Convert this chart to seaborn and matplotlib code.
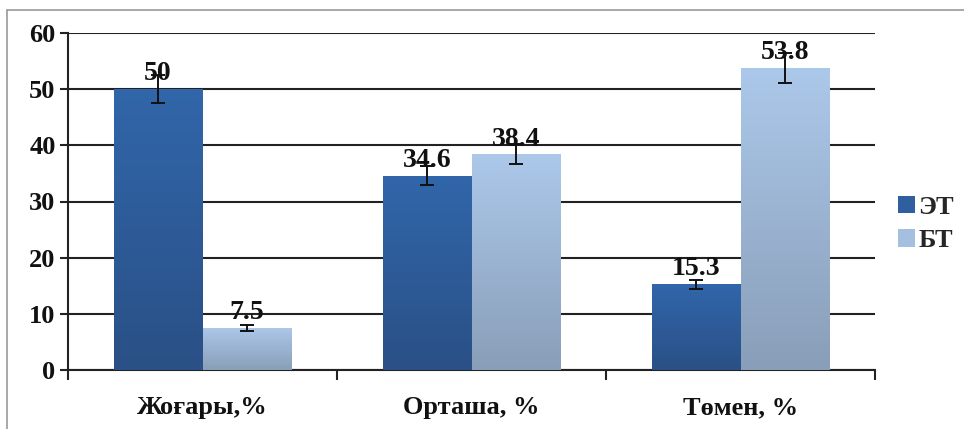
import numpy as np
import pandas as pd
import matplotlib
matplotlib.use("Agg")
import matplotlib.pyplot as plt
import seaborn as sns
from matplotlib.colors import LinearSegmentedColormap
from matplotlib.patches import Patch
from matplotlib.lines import Line2D

categories = ["Жоғары,%", "Орташа, %", "Төмен, %"]
series = ["ЭТ", "БТ"]
et_values = [50, 34.6, 15.3]
bt_values = [7.5, 38.4, 53.8]
et_err = [2.5, 1.7, 0.8]
bt_err = [0.5, 1.8, 2.7]

df = pd.DataFrame({
    "cat": categories * 2,
    "series": [series[0]] * 3 + [series[1]] * 3,
    "value": et_values + bt_values,
})

sns.set_theme(style="white")
plt.rcParams["font.family"] = ["Liberation Serif", "DejaVu Serif"]
plt.rcParams["font.weight"] = "bold"

fig = plt.figure(figsize=(9.64, 4.29), dpi=100)
ax = fig.add_axes([68 / 964, 1 - 370 / 429, (875 - 68) / 964, (370 - 33) / 429])

base_colors = {"ЭТ": "#2f5f9f", "БТ": "#a4bfdf"}
grads = {
    "ЭТ": LinearSegmentedColormap.from_list("et", ["#2a5086", "#3166aa"]),
    "БТ": LinearSegmentedColormap.from_list("bt", ["#899eb8", "#acc8ea"]),
}

sns.barplot(data=df, x="cat", y="value", hue="series", order=categories,
            hue_order=series, palette=base_colors, width=0.66, dodge=True,
            legend=False, ax=ax, errorbar=None, zorder=3, linewidth=0)

ax.set_ylim(0, 60)
ax.set_xlim(-0.5, 2.5)

grad = np.linspace(0, 1, 256).reshape(-1, 1)
errs = {"ЭТ": et_err, "БТ": bt_err}
vals = {"ЭТ": et_values, "БТ": bt_values}
for s, cont in zip(series, ax.containers):
    for i, bar in enumerate(cont):
        x0, w, h = bar.get_x(), bar.get_width(), bar.get_height()
        im = ax.imshow(grad, extent=[x0, x0 + w, 0, h], origin="lower",
                       cmap=grads[s], aspect="auto", zorder=3.1)
        im.set_clip_path(bar)
        xc = x0 + w / 2
        ax.errorbar(xc, h, yerr=errs[s][i], fmt="none", ecolor="#111111",
                    elinewidth=1.4, capsize=5, capthick=1.4, zorder=5)
        ax.annotate(f"{vals[s][i]:g}", (xc, h), xytext=(0, 2),
                    textcoords="offset points", ha="center", va="bottom",
                    fontsize=20, fontweight="bold", color="#111111", zorder=6)

ax.set_ylim(0, 60)
ax.set_xlim(-0.5, 2.5)
ax.set_yticks(range(0, 61, 10))
ax.yaxis.grid(True, color="#222222", linewidth=1.5)
ax.xaxis.grid(False)
ax.set_axisbelow(True)
ax.set_xlabel("")
ax.set_ylabel("")

for side in ["top", "right"]:
    ax.spines[side].set_visible(False)
ax.spines["left"].set_color("#222222")
ax.spines["left"].set_linewidth(1.5)
ax.spines["bottom"].set_color("#222222")
ax.spines["bottom"].set_linewidth(1.5)

ax.tick_params(axis="y", which="major", direction="out", length=6, width=1.5,
               color="#222222", labelsize=19, pad=3, left=True)
ax.tick_params(axis="x", which="major", length=0, labelsize=19, pad=19)
ax.set_xticks([-0.5, 0.5, 1.5, 2.5], minor=True)
ax.tick_params(axis="x", which="minor", direction="out", length=7, width=1.5,
               color="#222222", bottom=True)
for lab in ax.get_xticklabels() + ax.get_yticklabels():
    lab.set_fontweight("bold")
    lab.set_color("#111111")

handles = [Patch(facecolor=base_colors[s], edgecolor="none") for s in series]
leg = fig.legend(handles, series, loc="center left",
                 bbox_to_anchor=(898 / 964, 1 - 224 / 429),
                 frameon=False, fontsize=19, handlelength=0.65, handleheight=0.65,
                 handletextpad=0.12, labelspacing=0.4, borderpad=0, borderaxespad=0)
for t in leg.get_texts():
    t.set_fontweight("bold")

# outer frame (top and left edges)
fig.add_artist(Line2D([7 / 964, 1.0], [1 - 10 / 429, 1 - 10 / 429],
                      transform=fig.transFigure, color="#9a9a9a", linewidth=1.2))
fig.add_artist(Line2D([7 / 964, 7 / 964], [0, 1 - 10 / 429],
                      transform=fig.transFigure, color="#9a9a9a", linewidth=1.2))

fig.savefig("out.png", dpi=100, facecolor="white")
